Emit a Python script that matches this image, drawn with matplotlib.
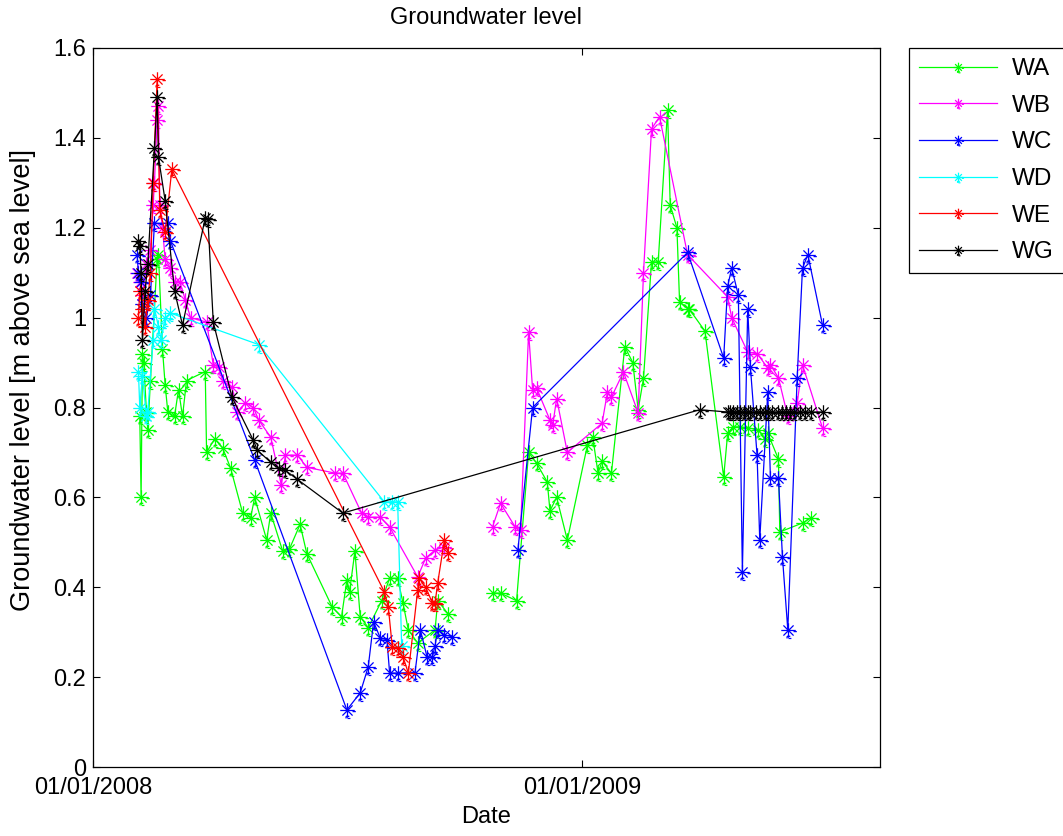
import numpy as np
import matplotlib
matplotlib.use("Agg")
import matplotlib.pyplot as plt
import matplotlib.dates as mdates
from matplotlib.path import Path
from matplotlib.lines import Line2D
from matplotlib.ticker import FormatStrFormatter

plt.rcParams["font.family"] = ["Liberation Sans", "DejaVu Sans"]

START = np.datetime64("2008-01-01")
nan = np.nan

# well readings: day offset from 01/01/2008, level in m above sea level
wa_day = [35, 36, 37, 38, 40, 41, 43, 48, 49, 52, 54, 56, 61, 64, 67, 70, 84, 85, 91, 97,
          103, 112, 118, 121, 130, 133, 142, 147, 155, 160,
          179, 186, 190, 192, 196, 200, 206, 216, 222, 228, 232, 236, 243, 256, 258, 266,
          283,
          299, 305, 317, 326, 332, 340, 342, 347, 355, 370, 374, 378, 381, 388, 398, 404, 408,
          412, 418, 423, 430, 432, 437, 439, 445, 446, 458, 472, 475, 479, 484, 490, 498, 503,
          505, 513, 514, 531, 537]
wa_lvl = [0.78, 0.60, 0.92, 0.90, 0.79, 0.75, 0.86, 1.13, 1.14, 0.93, 0.85, 0.79, 0.78, 0.84,
          0.78, 0.86, 0.88, 0.70, 0.73, 0.71, 0.665, 0.565, 0.555, 0.60, 0.505, 0.565, 0.48,
          0.485, 0.54, 0.475,
          0.356, 0.334, 0.416, 0.39, 0.48, 0.334, 0.31, 0.37, 0.42, 0.42, 0.365, 0.305, 0.276,
          0.305, 0.37, 0.34,
          nan,
          0.387, 0.387, 0.37, 0.70, 0.676, 0.634, 0.57, 0.60, 0.505, 0.716, 0.734, 0.654, 0.68,
          0.654, 0.935, 0.90, 0.795, 0.865, 1.124, 1.124, 1.462, 1.25, 1.20, 1.035, 1.02, 1.02,
          0.97, 0.645, 0.743, 0.757, 0.757, 0.755, 0.75, 0.73, 0.743, 0.685, 0.523, 0.543, 0.554]

wb_day = [33, 35, 37, 40, 43, 45, 46, 48, 49, 50, 52, 54, 58, 61, 65, 69, 73, 85, 90, 94, 97,
          104, 108, 114, 120, 124, 133, 141, 144, 153, 160, 181, 187, 201, 206, 215, 222, 243,
          249, 256, 263,
          283,
          299, 305, 316, 320, 326, 329, 332, 342, 344, 347, 355, 381, 385, 388, 397, 408, 412,
          418, 424, 445, 475, 478, 490, 497, 505, 507, 513, 520, 527, 531, 546]
wb_lvl = [1.10, 1.08, 1.05, 1.12, 1.15, 1.25, 1.30, 1.44, 1.47, 1.25, 1.20, 1.13, 1.11, 1.08,
          1.08, 1.04, 1.00, 0.99, 0.895, 0.89, 0.86, 0.845, 0.79, 0.81, 0.80, 0.772, 0.734,
          0.627, 0.694, 0.694, 0.667, 0.654, 0.654, 0.565, 0.556, 0.556, 0.534, 0.423, 0.465,
          0.483, 0.49,
          nan,
          0.534, 0.587, 0.534, 0.527, 0.968, 0.84, 0.843, 0.772, 0.76, 0.82, 0.70, 0.765, 0.834,
          0.823, 0.879, 0.788, 1.10, 1.42, 1.447, 1.14, 1.046, 1.00, 0.923, 0.92, 0.888, 0.895,
          0.866, 0.78, 0.81, 0.895, 0.754]

wc_day = [33, 34, 36, 37, 40, 43, 46, 56, 58, 121, 190, 200, 206, 210, 215, 220, 222, 228, 241,
          245, 250, 254, 256, 258, 263, 269,
          295,
          318, 329, 445, 472, 475, 478, 483, 486, 490, 492, 497, 499, 505, 507, 513, 516, 520,
          527, 531, 535, 546]
wc_lvl = [1.14, 1.10, 1.08, 1.03, 1.00, 1.05, 1.21, 1.21, 1.17, 0.683, 0.127, 0.165, 0.223,
          0.323, 0.287, 0.283, 0.209, 0.209, 0.21, 0.305, 0.245, 0.245, 0.27, 0.305, 0.294, 0.29,
          nan,
          0.483, 0.80, 1.145, 0.91, 1.07, 1.11, 1.05, 0.434, 1.02, 0.89, 0.694, 0.505, 0.834,
          0.643, 0.643, 0.467, 0.305, 0.866, 1.11, 1.14, 0.983]

wd_day = [34, 35, 37, 40, 41, 45, 46, 49, 51, 54, 58, 124, 218, 224, 228, 231]
wd_lvl = [0.88, 0.80, 0.87, 0.78, 0.79, 0.95, 1.02, 0.98, 0.95, 1.00, 1.01, 0.94, 0.59, 0.59,
          0.59, 0.27]

we_day = [34, 35, 37, 39, 41, 43, 45, 48, 50, 54, 59, 218, 221, 224, 228, 232, 236, 243, 244,
          249, 254, 256, 258, 263, 266]
we_lvl = [1.00, 1.06, 1.02, 0.98, 1.04, 1.10, 1.30, 1.53, 1.24, 1.19, 1.33, 0.39, 0.356, 0.267,
          0.265, 0.245, 0.209, 0.394, 0.42, 0.40, 0.365, 0.365, 0.41, 0.505, 0.476]

wg_day = [34, 35, 36, 37, 39, 41, 46, 48, 49, 54, 61, 67, 84, 86, 90, 104, 120, 123, 133, 139,
          144, 153, 187, 454, 475, 477, 479, 482, 484, 487, 490, 492, 496, 499, 503, 505, 508,
          513, 516, 519, 522, 525, 529, 533, 537, 546]
wg_lvl = [1.17, 1.16, 1.10, 0.95, 1.06, 1.12, 1.377, 1.49, 1.357, 1.26, 1.06, 0.983, 1.222,
          1.22, 0.99, 0.823, 0.727, 0.705, 0.678, 0.665, 0.66, 0.64, 0.565, 0.795, 0.79, 0.79,
          0.79, 0.79, 0.79, 0.79, 0.79, 0.79, 0.79, 0.79, 0.79, 0.79, 0.79, 0.79, 0.79, 0.79,
          0.79, 0.79, 0.79, 0.79, 0.79, 0.79]

wells = ["WA", "WB", "WC", "WD", "WE", "WG"]
days = [wa_day, wb_day, wc_day, wd_day, we_day, wg_day]
levels = [wa_lvl, wb_lvl, wc_lvl, wd_lvl, we_lvl, wg_lvl]
colors = ["#00ff00", "#ff00ff", "#0000ff", "#00ffff", "#ff0000", "#000000"]

# asterisk marker with the little ticks the renderer leaves beside it
star_segs = [((-1, 0), (1, 0)), ((0, -1), (0, 1)),
             ((-0.7, -0.7), (0.7, 0.7)), ((-0.7, 0.7), (0.7, -0.7)),
             ((0.7, -0.15), (1.15, -0.15)),
             ((-0.2, -0.8), (0.25, -0.8)), ((-0.2, -0.8), (-0.2, -1.1)),
             ((0.0, -1.1), (0.4, -1.1))]
verts, codes = [], []
for a, b in star_segs:
    verts += [a, b]
    codes += [Path.MOVETO, Path.LINETO]
star = Path(verts, codes)

fig = plt.figure(figsize=(10.63, 8.36), dpi=100)
ax = fig.add_axes([93 / 1063, 1 - 767 / 836, (880 - 93) / 1063, (767 - 48) / 836])

for name, d, v, c in zip(wells, days, levels, colors):
    t = START + np.array(d, dtype="timedelta64[D]")
    ax.plot(t, v, color=c, lw=0.9, marker=star, ms=12, mew=0.9, label=name)

ax.set_xlim(START, START + np.timedelta64(589, "D"))
ax.set_xticks([np.datetime64("2008-01-01"), np.datetime64("2009-01-01")])
ax.xaxis.set_major_formatter(mdates.DateFormatter("%m/%d/%Y"))
ax.set_ylim(0, 1.6)
ax.set_yticks(np.arange(0, 1.61, 0.2))
ax.yaxis.set_major_formatter(FormatStrFormatter("%g"))
ax.tick_params(direction="in", top=True, right=True, length=5, width=0.8, labelsize=17)
ax.tick_params(axis="x", pad=7)
ax.tick_params(axis="y", pad=5)
for s in ax.spines.values():
    s.set_linewidth(0.9)

fig.text((93 + 880) / 2 / 1063, 1 - 18 / 836, "Groundwater level", fontsize=17,
         ha="center", va="center")
ax.set_xlabel("Date", fontsize=17)
ax.xaxis.set_label_coords(0.5, -0.054)
ax.set_ylabel("Groundwater level [m above sea level]", fontsize=19.5)
ax.yaxis.set_label_coords(-0.072, 0.538)

handles = [Line2D([], [], color=c, lw=0.9, marker=star, ms=8, mew=0.9) for c in colors]
leg = fig.legend(handles, wells, loc="upper left",
                 bbox_to_anchor=(909 / 1063, 1 - 48 / 836), borderaxespad=0,
                 fontsize=17.5, handlelength=3.2, handletextpad=0.6, labelspacing=0.6,
                 borderpad=0.42, fancybox=False, framealpha=1, edgecolor="black")
leg.get_frame().set_linewidth(0.9)

fig.savefig("out.png", dpi=100)
